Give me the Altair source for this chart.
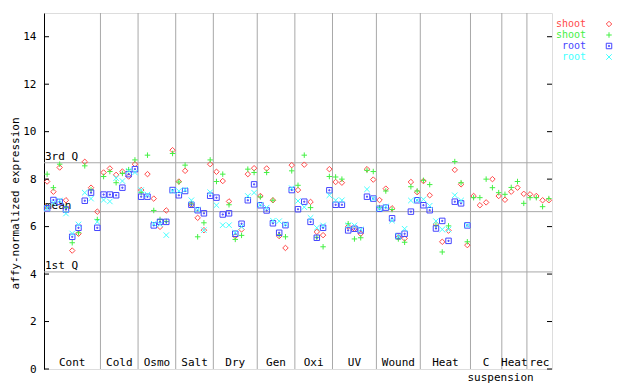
import altair as alt
import pandas as pd

# ---- data ----
group_names = ["Cont", "Cold", "Osmo", "Salt", "Dry", "Gen", "Oxi", "UV",
               "Wound", "Heat", "C", "Heat", "rec"]
group_sizes = [9, 6, 6, 6, 7, 6, 6, 7, 7, 8, 5, 4, 4]

series_keys = ["shoot_a", "shoot_b", "root_a", "root_b"]
legend_labels = ["shoot", "shoot", "root", "root"]
series_colors = ["#ff4a4a", "#44f044", "#4646ff", "#44ffff"]

shoot_a = [7.90, 7.47, 8.49, 7.11, 4.99, 5.70, 8.73, 7.64, 6.63,
           8.28, 8.45, 8.18, 8.32, 8.11, 8.63,
           7.54, 8.21, 7.18, 5.99, 6.68, 9.22,
           7.90, 8.35, 6.92, 6.37, 5.85, 8.63,
           8.31, 7.92, 7.06, 5.60, 5.88, 8.21, 8.46,
           7.29, 8.45, 7.11, 5.60, 5.10, 8.59,
           7.54, 8.61, 7.04, 5.78, 5.64, 8.42,
           7.88, 7.85, 6.00, 5.91, 5.70, 8.42, 7.98,
           7.12, 7.60, 6.77, 5.55, 5.50, 7.88, 7.45,
           7.92, 7.32, 6.11, 5.36, 5.83, 8.39, 7.78, 5.22,
           7.29, 6.90, 7.02, 8.00, 7.29,
           7.13, 7.47, 7.64, 7.38,
           7.36, 7.29, 7.11, 7.11]
shoot_b = [8.21, 7.64, 8.63, 6.80, 5.32, 5.74, 8.56, 7.55, 6.30,
           8.11, 8.32, 7.85, 8.24, 8.40, 8.81,
           7.43, 9.01, 6.68, 6.30, 6.22, 9.08,
           7.88, 8.59, 6.95, 5.57, 6.16, 8.81,
           7.90, 8.21, 6.92, 5.46, 5.63, 8.42, 8.28,
           7.25, 8.28, 7.11, 5.65, 5.57, 8.35,
           7.74, 9.01, 6.80, 5.55, 5.15, 8.11,
           8.09, 8.00, 6.12, 5.48, 5.53, 8.37, 8.32,
           6.80, 7.50, 6.72, 5.48, 5.34, 7.68, 7.50,
           7.95, 7.77, 6.05, 4.93, 6.03, 8.74, 7.85, 5.36,
           7.22, 7.22, 8.00, 7.64, 7.43,
           7.36, 7.65, 7.90, 6.98,
           7.22, 7.22, 6.84, 7.18]
root_a = [6.77, 7.12, 7.04, 6.72, 5.57, 5.95, 7.09, 7.43, 5.95,
          7.35, 7.35, 7.32, 7.64, 8.21, 8.42,
          7.26, 7.26, 6.05, 6.20, 6.20, 7.54,
          7.32, 7.50, 6.92, 6.69, 6.56, 7.30,
          7.22, 6.51, 6.56, 5.70, 6.12, 7.11, 7.78,
          6.90, 6.68, 6.14, 5.74, 6.06, 7.54,
          6.73, 7.05, 6.20, 5.53, 5.95, 7.53,
          6.92, 6.92, 5.84, 5.91, 5.84, 7.26, 7.18,
          6.75, 6.80, 6.35, 5.60, 5.70, 6.63, 7.11,
          6.90, 6.69, 5.92, 6.24, 5.40, 7.05, 6.98, 6.05,
          None, None, None, None, None,
          None, None, None, None,
          None, None, None, None]
root_b = [6.77, 7.00, 7.10, 6.55, 5.71, 6.09, 7.43, 7.18, 6.20,
          7.12, 7.06, 8.04, 7.92, 8.35, 8.28,
          7.54, 7.35, 6.12, 6.10, 5.64, 7.50,
          7.50, 7.55, 7.11, 6.72, 5.85, 7.45,
          6.90, 6.06, 6.06, 5.74, 6.00, 7.29, 7.43,
          6.92, 6.80, 6.25, 6.23, 6.10, 7.62,
          7.08, 6.82, 6.37, 5.95, 6.05, 7.32,
          7.11, 7.11, 6.05, 6.05, 5.88, 7.57, 7.18,
          6.75, 6.85, 6.25, 5.60, 5.91, 7.10, 7.11,
          7.15, 6.88, 6.23, 5.88, 5.88, 7.32, 7.10, 6.05,
          None, None, None, None, None,
          None, None, None, None,
          None, None, None, None]

quartile_values = [8.69, 6.63, 4.09]
quartile_labels = ["3rd Q", "mean", "1st Q"]
y_ticks = [0, 2, 4, 6, 8, 10, 12, 14]

# ---- tables built from the lists ----
n_slots = sum(group_sizes)
series_values = [shoot_a, shoot_b, root_a, root_b]
rows = []
for order, (key, vals) in enumerate(zip(series_keys, series_values)):
    for i, v in enumerate(vals):
        if v is not None:
            rows.append({"x": i + 0.5, "v": v, "s": key, "o": order})
points_df = pd.DataFrame(rows)

bounds, centers = [], []
start = 0
for size in group_sizes:
    centers.append(start + size / 2)
    start += size
    bounds.append(start)
bounds = bounds[:-1]
groups_df = pd.DataFrame({"name": group_names, "c": centers})
bounds_df = pd.DataFrame({"b": bounds})
quart_df = pd.DataFrame({"q": quartile_values, "label": quartile_labels})
ticks_df = pd.DataFrame({"t": y_ticks})
c_index = group_names.index("C")
susp_df = pd.DataFrame({"b": [sum(group_sizes[:c_index])], "label": ["suspension"]})
legend_df = pd.DataFrame({"s": series_keys, "label": legend_labels,
                          "row": list(range(len(series_keys)))})

# ---- styling ----
FONT = "DejaVu Sans Mono"
W, H = 508, 356
GRID = "#a8a8a8"
paths = [
    "M0,-1L1,0L0,1L-1,0Z",
    "M-1,0L1,0M0,-1L0,1",
    "M-1,-1L1,-1L1,1L-1,1ZM-0.2,-0.2L0.2,-0.2L0.2,0.2L-0.2,0.2Z",
    "M-1,-1L1,1M-1,1L1,-1",
]
xs = alt.Scale(domain=[0, n_slots], nice=False, zero=False)
ys = alt.Scale(domain=[0, 15], nice=False, zero=True)
yaxis = alt.Axis(values=y_ticks, ticks=False, grid=False, labelFont=FONT,
                 labelFontSize=11, labelColor="black", labelPadding=8,
                 domainColor="black", title="affy-normalized expression",
                 titleFont=FONT, titleFontSize=11, titleFontWeight="normal",
                 titleColor="black", titleAngle=270, titleX=-29, titleY=190,
                 titleAlign="center", titleBaseline="middle")
color_scale = alt.Scale(domain=series_keys, range=series_colors)
shape_scale = alt.Scale(domain=series_keys, range=paths)


def yq(field):
    return alt.Y(f"{field}:Q", scale=ys, axis=yaxis)


seps = alt.Chart(bounds_df).mark_rule(color=GRID, strokeWidth=1).encode(
    x=alt.X("b:Q", scale=xs, axis=None))
qlines = alt.Chart(quart_df).mark_rule(color=GRID, strokeWidth=1).encode(
    y=yq("q"))
qtext = alt.Chart(quart_df).mark_text(
    align="left", baseline="bottom", dx=1, dy=-1, font=FONT, fontSize=11,
    color="black").encode(x=alt.value(0), y=yq("q"), text="label:N")
gtext = alt.Chart(groups_df).mark_text(
    align="center", baseline="middle", font=FONT, fontSize=11,
    color="black").encode(x=alt.X("c:Q", scale=xs, axis=None),
                          y=alt.value(H - 6), text="name:N")
stext = alt.Chart(susp_df).mark_text(
    align="left", baseline="middle", dx=-3, font=FONT, fontSize=11,
    color="black").encode(x=alt.X("b:Q", scale=xs, axis=None),
                          y=alt.value(H + 9), text="label:N")
pts = alt.Chart(points_df).mark_point(
    filled=False, strokeWidth=1, size=30, opacity=1).encode(
    x=alt.X("x:Q", scale=xs, axis=None),
    y=yq("v"),
    shape=alt.Shape("s:N", scale=shape_scale, legend=None),
    color=alt.Color("s:N", scale=color_scale, legend=None),
    order=alt.Order("o:Q"))
lticks = alt.Chart(ticks_df).mark_rule(color="black").encode(
    y=yq("t"), x=alt.value(0), x2=alt.value(5))
rticks = alt.Chart(ticks_df).mark_rule(color="black").encode(
    y=yq("t"), x=alt.value(W - 5), x2=alt.value(W))

main = alt.layer(seps, qlines, qtext, gtext, stext, pts, lticks, rticks)

ly = alt.Y("row:O", scale=alt.Scale(type="point", range=[11, 44], padding=0),
           axis=None)
leg_text = alt.Chart(legend_df).mark_text(
    align="right", baseline="middle", font=FONT, fontSize=10).encode(
    x=alt.value(542), y=ly, text="label:N",
    color=alt.Color("s:N", scale=color_scale, legend=None))
leg_sym = alt.Chart(legend_df).mark_point(
    filled=False, strokeWidth=1, size=30, opacity=1).encode(
    x=alt.value(565), y=ly,
    shape=alt.Shape("s:N", scale=shape_scale, legend=None),
    color=alt.Color("s:N", scale=color_scale, legend=None))
legend = alt.layer(leg_text, leg_sym)

chart = alt.layer(main, legend).resolve_scale(y="independent").properties(
    width=W, height=H,
    autosize=alt.AutoSizeParams(type="none"),
    padding={"left": 36, "top": 5, "right": 72, "bottom": 15},
).configure_view(stroke="black", strokeWidth=1).configure(background="white")

chart.save("out.html", embed_options={"renderer": "svg", "actions": False})
